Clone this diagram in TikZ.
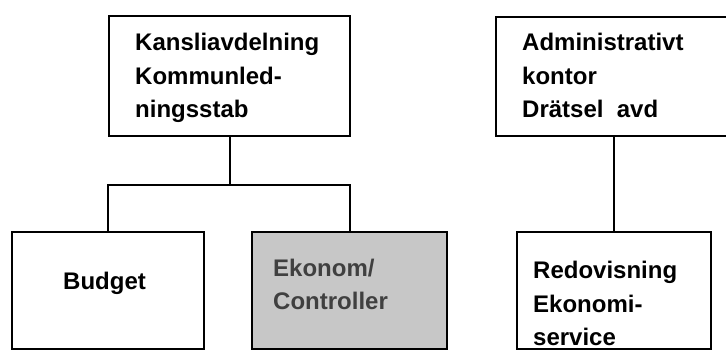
\documentclass[tikz,border=0pt]{standalone}
\usepackage{fontspec}
\setmainfont{Liberation Sans}
\newlength{\du}
\setlength{\du}{1pt}
\newcommand{\orgfont}{\fontsize{24\du}{33.5\du}\selectfont\bfseries}
\definecolor{shadegray}{rgb}{0.780000, 0.780000, 0.780000}
\definecolor{fadetext}{rgb}{0.250000, 0.250000, 0.250000}
\tikzset{
  orgbox/.style={draw=black, fill=white, line width=2\du, inner sep=0pt},
  orgline/.style={draw=black, line width=2\du},
  orgtext/.style={anchor=base west, inner sep=0pt, align=left, font=\orgfont}
}

\begin{document}
\begin{tikzpicture}[x=\du,y=-\du]
\useasboundingbox (0,0) rectangle (726,352);
\clip (0,0) rectangle (726,352);
% boxes
\node[orgbox, minimum width=241\du, minimum height=120\du] (kansli) at (229.5,76) {};
\node[orgbox, minimum width=236\du, minimum height=119\du] (admin) at (613.5,76.5) {};
\node[orgbox, minimum width=192\du, minimum height=117\du] (budget) at (108,290.5) {};
\node[orgbox, fill=shadegray, minimum width=195\du, minimum height=117\du] (ekonom) at (349.5,290.5) {};
\node[orgbox, minimum width=194\du, minimum height=117\du] (redov) at (613.5,290.5) {};
% connectors
\coordinate (fork) at (229.5,185);
\draw[orgline] (kansli.south) -- (fork);
\draw[orgline] (fork) -| (budget.north);
\draw[orgline] (fork) -| (ekonom.north);
\draw[orgline] (admin.south) -- (redov.north);
% texts (anchored at the baseline of the last line)
\node[orgtext] (kansliText) at (135,118) {Kansliavdelning\\Kommunled-\\ningsstab};
\node[orgtext] (adminText) at (522,118) {Administrativt\\kontor\\Drätsel\ \ avd};
\node[orgtext] (budgetText) at (63,290) {Budget};
\node[orgtext, text=fadetext] (ekonomText) at (273,310) {Ekonom/\\Controller};
\node[orgtext] (redovText) at (533,346) {Redovisning\\Ekonomi-\\service};
\end{tikzpicture}
\end{document}
